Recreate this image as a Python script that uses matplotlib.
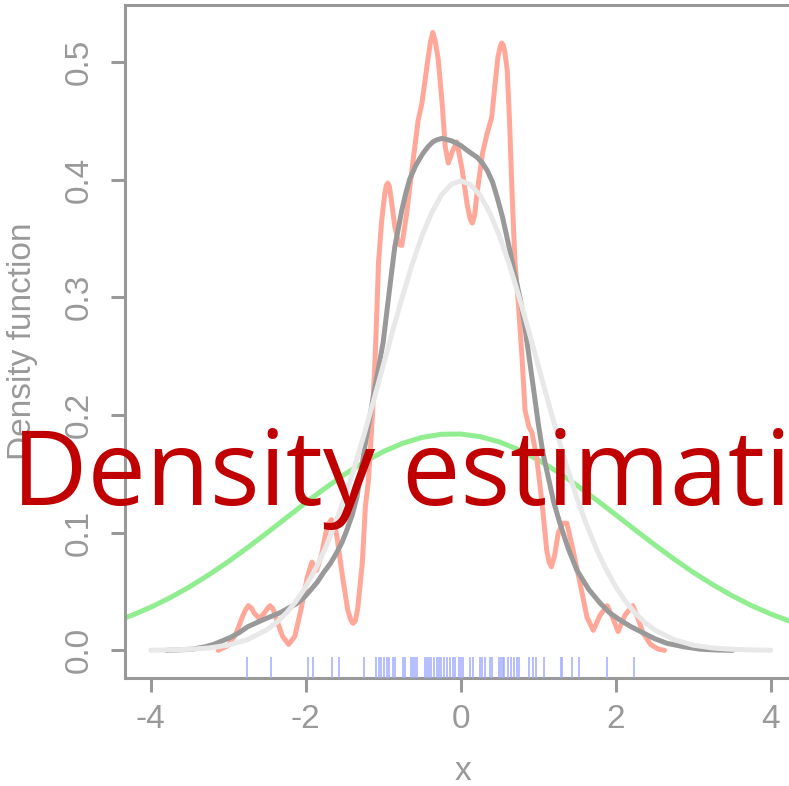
import numpy as np
import matplotlib.pyplot as plt
import matplotlib.transforms as mtransforms

# ---------- values ----------
# rug: sample positions
rug_x = [-2.754, -2.452, -1.970, -1.902, -1.661, -1.570, -1.244, -1.097, -1.050,
         -1.025, -0.990, -0.955, -0.929, -0.870, -0.852, -0.748, -0.723, -0.645,
         -0.619, -0.594, -0.568, -0.457, -0.431, -0.405, -0.379, -0.345, -0.310,
         -0.284, -0.250, -0.215, -0.173, -0.138, -0.103, -0.070, -0.026, 0.000,
         0.026, 0.120, 0.163, 0.249, 0.275, 0.310, 0.378, 0.404, 0.498, 0.516,
         0.542, 0.559, 0.610, 0.645, 0.688, 0.723, 0.756, 0.877, 0.937, 0.972,
         1.075, 1.290, 1.307, 1.436, 1.523, 1.884, 2.236]

# small-bandwidth density (salmon)
kde_small_x = [-3.13, -3.0, -2.9, -2.82, -2.78, -2.74, -2.70, -2.67, -2.60, -2.53,
               -2.49, -2.46, -2.42, -2.38, -2.30, -2.22, -2.14, -2.06, -1.98, -1.92,
               -1.86, -1.80, -1.74, -1.70, -1.67, -1.63, -1.60, -1.53, -1.46, -1.42,
               -1.39, -1.36, -1.33, -1.27, -1.23, -1.19, -1.14, -1.10, -1.06, -1.02,
               -0.98, -0.96, -0.94, -0.92, -0.90, -0.85, -0.80, -0.76, -0.70, -0.63,
               -0.55, -0.50, -0.43, -0.39, -0.36, -0.33, -0.29, -0.24, -0.20, -0.16,
               -0.10, -0.05, 0.02, 0.08, 0.12, 0.15, 0.18, 0.21, 0.28, 0.34,
               0.40, 0.44, 0.48, 0.51, 0.53, 0.55, 0.57, 0.60, 0.63, 0.66,
               0.70, 0.74, 0.79, 0.83, 0.88, 0.92, 0.98, 1.05, 1.11, 1.14,
               1.17, 1.21, 1.26, 1.32, 1.37, 1.45, 1.54, 1.63, 1.71, 1.80,
               1.89, 1.96, 2.03, 2.12, 2.22, 2.30, 2.35, 2.45, 2.55, 2.63]
kde_small_y = [0.0, 0.004, 0.014, 0.028, 0.034, 0.038, 0.036, 0.032, 0.027, 0.032,
               0.036, 0.038, 0.035, 0.027, 0.012, 0.005, 0.012, 0.035, 0.062, 0.075,
               0.068, 0.080, 0.100, 0.108, 0.111, 0.107, 0.098, 0.065, 0.035, 0.026,
               0.023, 0.025, 0.035, 0.074, 0.122, 0.145, 0.198, 0.255, 0.330, 0.365,
               0.388, 0.395, 0.397, 0.394, 0.385, 0.360, 0.345, 0.344, 0.370, 0.408,
               0.450, 0.465, 0.499, 0.517, 0.525, 0.518, 0.502, 0.465, 0.428, 0.414,
               0.425, 0.432, 0.408, 0.380, 0.367, 0.363, 0.370, 0.388, 0.422, 0.439,
               0.453, 0.479, 0.504, 0.513, 0.516, 0.514, 0.508, 0.493, 0.450, 0.393,
               0.330, 0.298, 0.250, 0.204, 0.190, 0.185, 0.164, 0.125, 0.085, 0.075,
               0.071, 0.080, 0.100, 0.108, 0.108, 0.085, 0.057, 0.028, 0.017, 0.030,
               0.038, 0.028, 0.016, 0.030, 0.038, 0.025, 0.015, 0.005, 0.001, 0.0]

# default-bandwidth density (dark grey)
kde_x = [-3.8, -3.6, -3.46, -3.3, -3.19, -3.08, -2.97, -2.86, -2.75, -2.65,
         -2.55, -2.44, -2.33, -2.22, -2.11, -2.02, -1.94, -1.85, -1.77, -1.68,
         -1.60, -1.53, -1.47, -1.40, -1.34, -1.29, -1.24, -1.18, -1.13, -1.06,
         -1.0, -0.94, -0.89, -0.85, -0.80, -0.76, -0.71, -0.66, -0.58, -0.49,
         -0.42, -0.36, -0.30, -0.24, -0.18, -0.12, -0.06, 0.0, 0.10, 0.21,
         0.28, 0.34, 0.41, 0.47, 0.54, 0.60, 0.64, 0.68, 0.72, 0.77,
         0.82, 0.87, 0.94, 1.0, 1.06, 1.13, 1.20, 1.28, 1.39, 1.50,
         1.65, 1.80, 1.92, 2.05, 2.20, 2.35, 2.50, 2.66, 2.88, 3.09,
         3.30, 3.51]
kde_y = [0.0, 0.0005, 0.001, 0.003, 0.005, 0.008, 0.011, 0.015, 0.020, 0.023,
         0.026, 0.029, 0.032, 0.036, 0.040, 0.045, 0.051, 0.058, 0.066, 0.074,
         0.083, 0.092, 0.102, 0.115, 0.130, 0.150, 0.172, 0.195, 0.215, 0.240,
         0.262, 0.295, 0.322, 0.343, 0.360, 0.374, 0.388, 0.400, 0.412, 0.422,
         0.428, 0.432, 0.434, 0.435, 0.434, 0.433, 0.431, 0.429, 0.424, 0.419,
         0.414, 0.408, 0.398, 0.385, 0.368, 0.350, 0.338, 0.325, 0.313, 0.298,
         0.278, 0.255, 0.222, 0.193, 0.168, 0.147, 0.126, 0.108, 0.086, 0.068,
         0.052, 0.040, 0.032, 0.026, 0.020, 0.015, 0.010, 0.006, 0.003, 0.001,
         0.0003, 0.0]

# reference normal curve (light grey)
norm_x = [-4.0, -3.75, -3.5, -3.25, -3.0, -2.75, -2.5, -2.375, -2.25, -2.125, -2.0,
          -1.875, -1.75, -1.625, -1.5, -1.375, -1.25, -1.125, -1.0, -0.875, -0.75,
          -0.625, -0.5, -0.375, -0.25, -0.125, 0.0, 0.125, 0.25, 0.375, 0.5,
          0.625, 0.75, 0.875, 1.0, 1.125, 1.25, 1.375, 1.5, 1.625, 1.75,
          1.875, 2.0, 2.125, 2.25, 2.375, 2.5, 2.75, 3.0, 3.25, 3.5, 3.75, 4.0]
norm_y = [0.0001, 0.0004, 0.0009, 0.002, 0.0044, 0.0091, 0.0175, 0.0238, 0.0317,
          0.0417, 0.054, 0.0689, 0.0863, 0.1065, 0.1295, 0.1548, 0.1826, 0.2119,
          0.242, 0.2721, 0.3011, 0.3282, 0.3521, 0.3719, 0.3867, 0.3958, 0.3989,
          0.3958, 0.3867, 0.3719, 0.3521, 0.3282, 0.3011, 0.2721, 0.242, 0.2119,
          0.1826, 0.1548, 0.1295, 0.1065, 0.0863, 0.0689, 0.054, 0.0417, 0.0317,
          0.0238, 0.0175, 0.0091, 0.0044, 0.002, 0.0009, 0.0004, 0.0001]

# wide normal curve (green)
wide_x = [-4.5, -4.25, -4.0, -3.75, -3.5, -3.25, -3.0, -2.75, -2.5, -2.25, -2.0,
          -1.75, -1.5, -1.25, -1.0, -0.75, -0.5, -0.25, 0.0, 0.25, 0.5, 0.75,
          1.0, 1.25, 1.5, 1.75, 2.0, 2.25, 2.5, 2.75, 3.0, 3.25, 3.5, 3.75,
          4.0, 4.25, 4.5]
wide_y = [0.0235, 0.0296, 0.0366, 0.0447, 0.0539, 0.0642, 0.0753, 0.0873, 0.0998,
          0.1126, 0.1254, 0.1378, 0.1494, 0.1599, 0.1688, 0.1759, 0.1809, 0.1836,
          0.1838, 0.1816, 0.1771, 0.1704, 0.1618, 0.1516, 0.1402, 0.1279, 0.1152,
          0.1024, 0.0898, 0.0777, 0.0663, 0.0559, 0.0465, 0.0381, 0.0309, 0.0247,
          0.0194]

x_ticks = [-4, -2, 0, 2, 4]
y_ticks = [0.0, 0.1, 0.2, 0.3, 0.4, 0.5]

# ---------- figure ----------
GREY = '#999999'
plt.rcParams['font.family'] = ['Liberation Sans', 'DejaVu Sans']

fig = plt.figure(figsize=(7.89, 7.86), dpi=100)
ax = fig.add_axes([0.1584, 0.1374, 0.8577, 0.8562])

line_kw = dict(lw=3.6, solid_capstyle='round', solid_joinstyle='round')
ax.plot(wide_x, wide_y, color='#90EE90', zorder=2, **line_kw)
ax.plot(kde_small_x, kde_small_y, color='#FFA899', zorder=3, **line_kw)
ax.plot(kde_x, kde_y, color='#999999', zorder=4, **line_kw)
ax.plot(norm_x, norm_y, color='#E8E8E8', zorder=5, **line_kw)

trans = mtransforms.blended_transform_factory(ax.transData, ax.transAxes)
ax.vlines(rug_x, 0.0, 0.031, transform=trans, color='#A3ACFF', lw=1.1, zorder=6)

ax.set_xlim(-4.332, 4.4)
ax.set_ylim(-0.0235, 0.5483)
ax.set_xticks(x_ticks)
ax.set_xticklabels(['-4', '-2', '0', '2', '4'])
ax.set_yticks(y_ticks)
ax.set_yticklabels(['0.0', '0.1', '0.2', '0.3', '0.4', '0.5'], rotation=90, va='center')

for sp in ax.spines.values():
    sp.set_color(GREY)
    sp.set_linewidth(2.2)
ax.tick_params(colors=GREY, labelcolor=GREY, length=10, width=2.2, labelsize=24)
ax.tick_params(axis='x', pad=9)
ax.tick_params(axis='y', pad=12)

ax.set_xlabel('x', color=GREY, fontsize=24, labelpad=15)
ax.set_ylabel('Density function', color=GREY, fontsize=24, labelpad=18)

fig.text(12 / 789, 1 - 505 / 786, 'Density estimation', color='#C00000',
         fontsize=75, family=['Open Sans', 'DejaVu Sans'], ha='left', va='baseline',
         zorder=10)

fig.savefig('out.png', dpi=100)
